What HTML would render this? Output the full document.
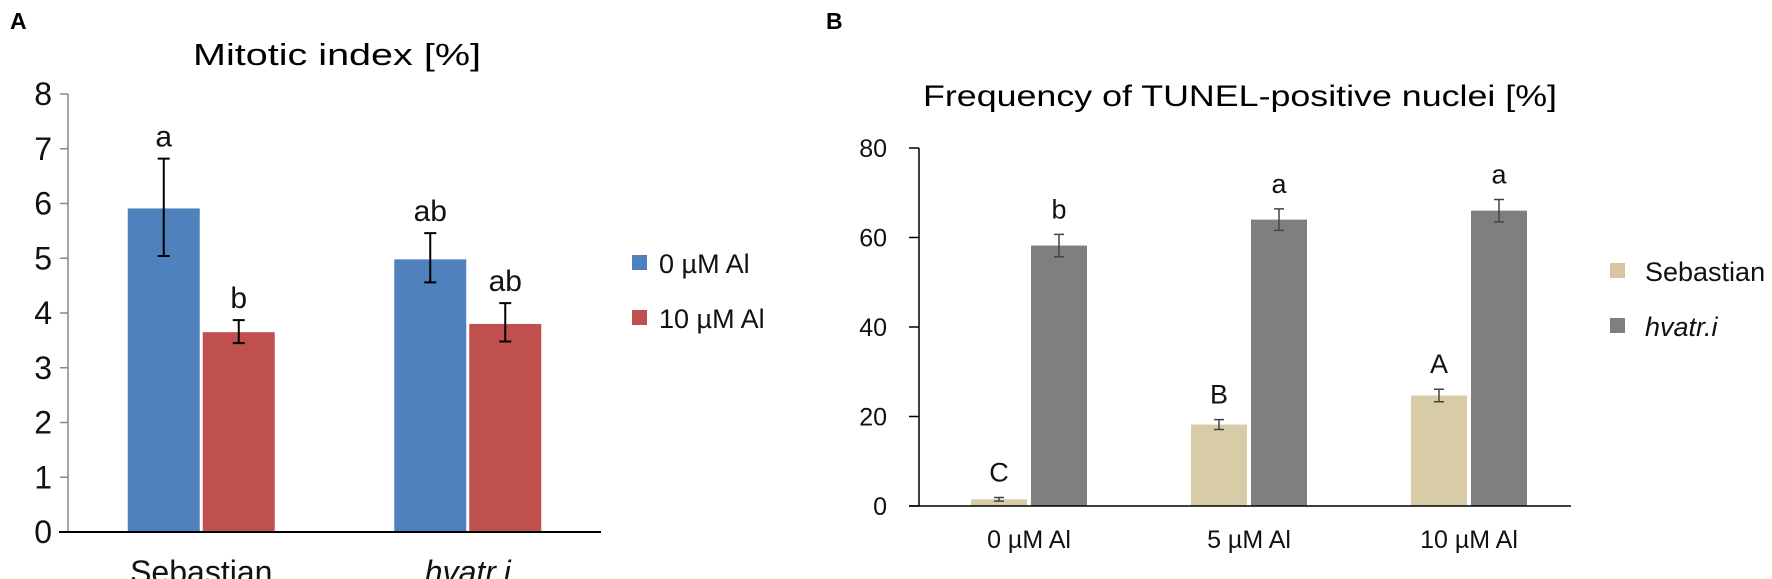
<!DOCTYPE html>
<html><head><meta charset="utf-8">
<style>
html,body{margin:0;padding:0;background:#fff;}
svg{display:block;font-family:"Liberation Sans",sans-serif;}
</style></head>
<body>
<svg id="fig" width="1772" height="579" viewBox="0 0 1772 579" xmlns="http://www.w3.org/2000/svg">
<text x="10" y="29" font-size="23" font-weight="bold">A</text>
<text x="826" y="29" font-size="23" font-weight="bold">B</text>
<text x="337" y="65" font-size="31" text-anchor="middle" textLength="288" lengthAdjust="spacingAndGlyphs">Mitotic index [%]</text>
<text x="1240" y="106" font-size="30" text-anchor="middle" textLength="634" lengthAdjust="spacingAndGlyphs">Frequency of TUNEL-positive nuclei [%]</text>
<g id="chartA"></g>
<g id="chartB"></g>
</svg>
<script>
// Chart A data
const aCategories = ["Sebastian", "hvatr.i"];
const aSeries = ["0 µM Al", "10 µM Al"];
const aVals0 = [5.91, 4.98];
const aVals10 = [3.65, 3.80];
const aErrLo0 = [5.04, 4.56];
const aErrHi0 = [6.82, 5.46];
const aErrLo10 = [3.45, 3.48];
const aErrHi10 = [3.87, 4.18];
const aLetters0 = ["a", "ab"];
const aLetters10 = ["b", "ab"];
const aTicks = [0,1,2,3,4,5,6,7,8];
// Chart B data
const bCategories = ["0 µM Al", "5 µM Al", "10 µM Al"];
const bSeries = ["Sebastian", "hvatr.i"];
const bValsSeb = [1.5, 18.2, 24.7];
const bValsHv = [58.2, 64.0, 66.0];
const bErrSeb = [0.4, 1.1, 1.4];
const bErrHv = [2.5, 2.4, 2.5];
const bLettersSeb = ["C", "B", "A"];
const bLettersHv = ["b", "a", "a"];
const bTicks = [0,20,40,60,80];

const NS = "http://www.w3.org/2000/svg";
function mk(parent, tag, attrs, text){
  const e = document.createElementNS(NS, tag);
  for (const k in attrs) e.setAttribute(k, attrs[k]);
  if (text !== undefined) e.textContent = text;
  parent.appendChild(e);
  return e;
}

// ---------- Chart A ----------
(function(){
  const g = document.getElementById('chartA');
  const x0 = 68, x1 = 601, yZero = 532, yTop = 94, vMax = 8;
  const y = v => yZero - (yZero - yTop) * v / vMax;
  const band = (x1 - x0) / aCategories.length;
  const bw = 72, gap = 3;
  aTicks.forEach(t => {
    const tk = mk(g, 'line', {x1: x0-8, x2: x0, y1: y(t), y2: y(t), stroke: '#888', 'stroke-width': 1.5});
    
    
    const lb = mk(g, 'text', {x: 52, y: y(t)+11, 'font-size': 32, 'text-anchor': 'end', fill: '#111'}, String(t));
    
    
  });
  const ya = mk(g, 'line', {x1: x0, x2: x0, y1: yTop, y2: yZero, stroke: '#888', 'stroke-width': 1.5});
  
  
  const series = [
    {vals: aVals0, lo: aErrLo0, hi: aErrHi0, let: aLetters0, col: '#4f81bd', name: 'bar-0um'},
    {vals: aVals10, lo: aErrLo10, hi: aErrHi10, let: aLetters10, col: '#c0504d', name: 'bar-10um'}
  ];
  aCategories.forEach((c, i) => {
    const cx = x0 + band * (i + 0.5);
    series.forEach((s, j) => {
      const bx = j === 0 ? cx - gap/2 - bw : cx + gap/2;
      const r = mk(g, 'rect', {x: bx, y: y(s.vals[i]), width: bw, height: yZero - y(s.vals[i]), fill: s.col});
      
      
      const mx = bx + bw/2;
      const eb = mk(g, 'path', {d: `M${mx},${y(s.hi[i])}V${y(s.lo[i])}M${mx-6},${y(s.hi[i])}H${mx+6}M${mx-6},${y(s.lo[i])}H${mx+6}`, stroke: '#000', 'stroke-width': 2, fill: 'none'});
      
      
      const lt = mk(g, 'text', {x: mx, y: y(s.hi[i]) - 12, 'font-size': 30, 'text-anchor': 'middle', fill: '#111'}, s.let[i]);
      
      
    });
    const xl = mk(g, 'text', {x: cx, y: 583, 'font-size': 32, 'text-anchor': 'middle', fill: '#111', 'font-style': i === 1 ? 'italic' : 'normal'}, c);
    
    
  });
  const xa = mk(g, 'line', {x1: 59, x2: x1, y1: yZero, y2: yZero, stroke: '#000', 'stroke-width': 2});
  
  
  const cols = ['#4f81bd', '#c0504d'];
  const ly = [263, 318];
  aSeries.forEach((s, j) => {
    const sq = mk(g, 'rect', {x: 632, y: ly[j]-8, width: 15, height: 15, fill: cols[j]});
    
    
    const t = mk(g, 'text', {x: 659, y: ly[j]+10, 'font-size': 27, fill: '#111'}, s);
    
    
  });
})();

// ---------- Chart B ----------
(function(){
  const g = document.getElementById('chartB');
  const x0 = 919, x1 = 1571, yZero = 506, yTop = 148, vMax = 80;
  const y = v => yZero - (yZero - yTop) * v / vMax;
  const band = (x1 - x0) / bCategories.length;
  const bw = 56, gap = 4;
  bTicks.forEach(t => {
    const tk = mk(g, 'line', {x1: x0-10, x2: x0, y1: y(t), y2: y(t), stroke: '#000', 'stroke-width': 1.5});
    
    
    const lb = mk(g, 'text', {x: 887, y: y(t)+9, 'font-size': 25, 'text-anchor': 'end', fill: '#111'}, String(t));
    
    
  });
  const ya = mk(g, 'line', {x1: x0, x2: x0, y1: yTop, y2: yZero, stroke: '#000', 'stroke-width': 1.5});
  
  
  const series = [
    {vals: bValsSeb, err: bErrSeb, let: bLettersSeb, col: '#d8cba7', name: 'bar-sebastian'},
    {vals: bValsHv, err: bErrHv, let: bLettersHv, col: '#7f7f7f', name: 'bar-hvatr'}
  ];
  bCategories.forEach((c, i) => {
    const cx = x0 + 110 + 220 * i;
    series.forEach((s, j) => {
      const bx = j === 0 ? cx - gap/2 - bw : cx + gap/2;
      const r = mk(g, 'rect', {x: bx, y: y(s.vals[i]), width: bw, height: yZero - y(s.vals[i]), fill: s.col});
      
      
      const mx = bx + bw/2;
      const hi = y(s.vals[i] + s.err[i]), lo = y(s.vals[i] - s.err[i]);
      const eb = mk(g, 'path', {d: `M${mx},${hi}V${lo}M${mx-5},${hi}H${mx+5}M${mx-5},${lo}H${mx+5}`, stroke: '#444', 'stroke-width': 1.5, fill: 'none'});
      
      
      const lt = mk(g, 'text', {x: mx, y: hi - 16, 'font-size': 27, 'text-anchor': 'middle', fill: '#111'}, s.let[i]);
      
      
    });
    const xl = mk(g, 'text', {x: cx, y: 548, 'font-size': 25, 'text-anchor': 'middle', fill: '#111'}, c);
    
    
  });
  const xa = mk(g, 'line', {x1: 909, x2: x1, y1: yZero, y2: yZero, stroke: '#000', 'stroke-width': 1.5});
  
  
  const cols = ['#d8c49e', '#7f7f7f'];
  const ly = [271, 326];
  bSeries.forEach((s, j) => {
    const sq = mk(g, 'rect', {x: 1610, y: ly[j]-8, width: 15, height: 15, fill: cols[j]});
    
    
    const t = mk(g, 'text', {x: 1645, y: ly[j]+10, 'font-size': 27, fill: '#111', 'font-style': j === 1 ? 'italic' : 'normal'}, s);
    
    
  });
})();
</script>
</body></html>
